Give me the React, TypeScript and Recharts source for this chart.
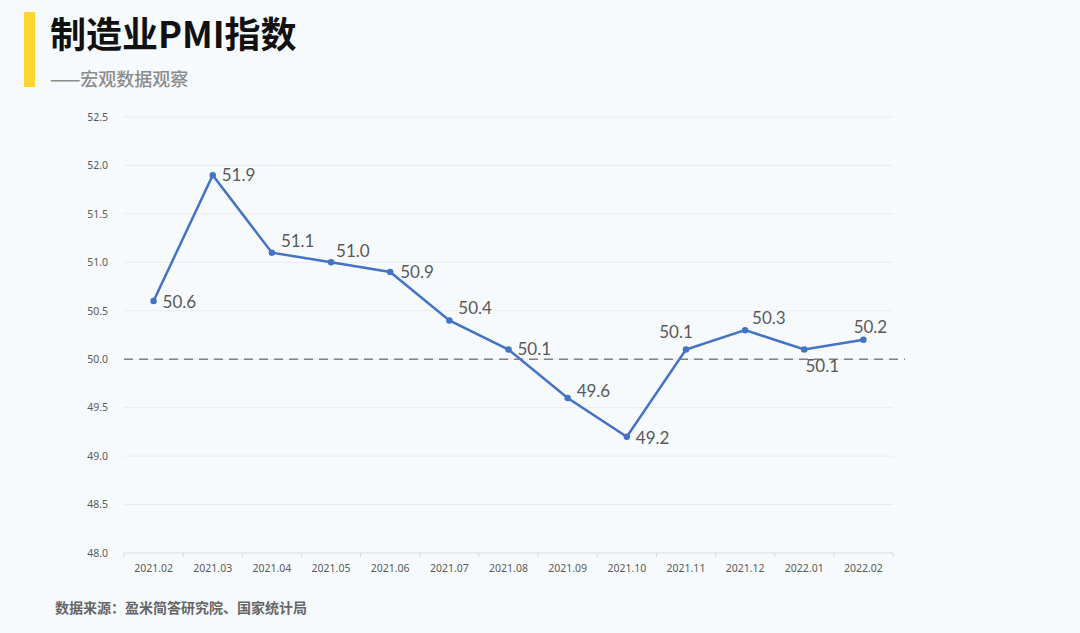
import React from 'react';
import { LineChart, Line, XAxis, YAxis, CartesianGrid, ReferenceLine, LabelList } from 'recharts';

const months = ['2021.02', '2021.03', '2021.04', '2021.05', '2021.06', '2021.07', '2021.08', '2021.09', '2021.10', '2021.11', '2021.12', '2022.01', '2022.02'];
const pmi = [50.6, 51.9, 51.1, 51.0, 50.9, 50.4, 50.1, 49.6, 49.2, 50.1, 50.3, 50.1, 50.2];
const yTicks = [48.0, 48.5, 49.0, 49.5, 50.0, 50.5, 51.0, 51.5, 52.0, 52.5];

// label offsets relative to each point: [dx, dy, anchor]
const labelPlace: [number, number, string][] = [
  [9, 1, 'start'], [9, 0, 'start'], [9, -12, 'start'], [5, -11, 'start'],
  [10, 0, 'start'], [9, -12, 'start'], [9, 0, 'start'], [9, -7, 'start'],
  [9, 1, 'start'], [-10, -17, 'middle'], [7, -12, 'start'], [18, 17, 'middle'], [7, -13, 'middle'],
];

const data = months.map((m, i) => ({ month: m, pmi: pmi[i] }));

const PLOT_LEFT = 124;
const PLOT_RIGHT = 893;
const PLOT_BOTTOM = 553;
const BAND = (PLOT_RIGHT - PLOT_LEFT) / months.length;

const PointLabel = (props: any) => {
  const { x, y, index, value } = props;
  const [dx, dy, anchor] = labelPlace[index];
  return (
    <text x={x + dx} y={y + dy} dy="0.35em" textAnchor={anchor} fill="#595959" fontSize={17} fontFamily="Lato, 'Noto Sans', sans-serif">
      {Number(value).toFixed(1)}
    </text>
  );
};

const MonthTick = (props: any) => {
  const { x, payload, index } = props;
  return (
    <g>
      <line x1={x - BAND / 2} y1={PLOT_BOTTOM} x2={x - BAND / 2} y2={PLOT_BOTTOM + 4} stroke="#D9D9D9" />
      {index === months.length - 1 && <line x1={x + BAND / 2} y1={PLOT_BOTTOM} x2={x + BAND / 2} y2={PLOT_BOTTOM + 4} stroke="#D9D9D9" />}
      <text x={x} y={PLOT_BOTTOM + 12} dy="0.71em" textAnchor="middle" fill="#595959" fontSize={10.5} fontFamily="'Noto Sans', sans-serif">
        {payload.value}
      </text>
    </g>
  );
};

const DashedRef = (props: any) => {
  const { x1, y1, x2, y2 } = props;
  return <line x1={x1} y1={y1} x2={x2 + 12} y2={y2} stroke="#808080" strokeWidth={1.5} strokeDasharray="9 6" />;
};

export default function App() {
  return (
    <div style={{ position: 'absolute', left: 0, top: 0, width: 1080, height: 633, background: '#F7FAFD', overflow: 'hidden', fontFamily: "'Noto Sans CJK SC', sans-serif" }}>
      <div style={{ position: 'absolute', left: 24, top: 12, width: 11, height: 75, background: '#FDD631' }} />
      <div style={{ position: 'absolute', left: 50, top: 8, fontSize: 36, fontWeight: 700, color: '#111', lineHeight: '48px' }}>制造业PMI指数</div>
      <div style={{ position: 'absolute', left: 50, top: 65, fontSize: 18, fontWeight: 500, color: '#8C8C8C', lineHeight: '26px' }}>——宏观数据观察</div>
      <LineChart width={1080} height={633} data={data} margin={{ top: 117, right: 1080 - PLOT_RIGHT, bottom: 0, left: 0 }} style={{ position: 'absolute', left: 0, top: 0 }}>
        <CartesianGrid vertical={false} stroke="#EBEBEB" />
        <XAxis dataKey="month" axisLine={{ stroke: '#E3E3E3' }} tickLine={false} tick={<MonthTick />} interval={0} height={633 - PLOT_BOTTOM}
          padding={{ left: BAND / 2, right: BAND / 2 }} />
        <YAxis width={PLOT_LEFT} domain={[48, 52.5]} ticks={yTicks} axisLine={false} tickLine={false} tickSize={0} tickMargin={16}
          tick={{ fill: '#595959', fontSize: 10.5, fontFamily: "'Noto Sans', sans-serif" }} tickFormatter={(v: number) => v.toFixed(1)} />
        <ReferenceLine y={50} shape={<DashedRef />} />
        <Line type="linear" dataKey="pmi" stroke="#4472C4" strokeWidth={2.5} dot={{ r: 2, fill: '#4472C4', stroke: '#4472C4' }} isAnimationActive={false}>
          <LabelList dataKey="pmi" content={<PointLabel />} />
        </Line>
      </LineChart>
      <div style={{ position: 'absolute', left: 55, top: 597, fontSize: 14, fontWeight: 700, color: '#666', lineHeight: '20px' }}>数据来源：盈米简答研究院、国家统计局</div>
    </div>
  );
}
